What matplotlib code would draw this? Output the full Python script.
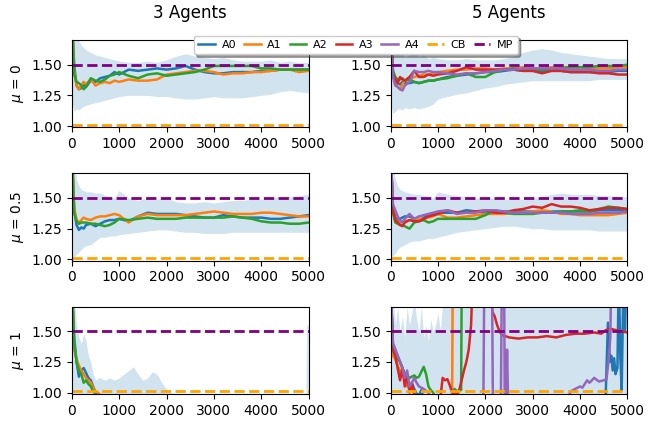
import matplotlib
matplotlib.use("Agg")
import matplotlib.pyplot as plt

colors = ["tab:blue", "tab:orange", "tab:green", "tab:red", "tab:purple"]
agents = ["A0", "A1", "A2", "A3", "A4"]
col_titles = ["3 Agents", "5 Agents"]
row_labels = [r"$\mu$ = 0", r"$\mu$ = 0.5", r"$\mu$ = 1"]
cb_level = 1.01
mp_level = 1.5

# shared time grid for the mu=0 and mu=0.5 rows
t = [0, 50, 100, 150, 200, 250, 300, 400, 500, 600, 700, 800, 900, 1000, 1200, 1400,
     1600, 1800, 2000, 2200, 2400, 2600, 2800, 3000, 3200, 3400, 3600, 3800, 4000,
     4200, 4400, 4600, 4800, 5000]

# ---- 3 agents, mu = 0
n3_m0 = [
    [1.9, 1.50, 1.33, 1.30, 1.31, 1.34, 1.32, 1.37, 1.36, 1.39, 1.40, 1.41, 1.44, 1.42, 1.46, 1.45,
     1.46, 1.47, 1.46, 1.47, 1.49, 1.46, 1.44, 1.43, 1.43, 1.44, 1.44, 1.44, 1.45, 1.45, 1.46, 1.46, 1.46, 1.46],
    [1.9, 1.45, 1.33, 1.30, 1.33, 1.36, 1.34, 1.38, 1.33, 1.35, 1.36, 1.35, 1.37, 1.36, 1.38, 1.37,
     1.37, 1.38, 1.42, 1.43, 1.44, 1.45, 1.45, 1.44, 1.42, 1.43, 1.43, 1.44, 1.44, 1.45, 1.46, 1.46, 1.44, 1.45],
    [1.9, 1.42, 1.36, 1.35, 1.33, 1.30, 1.32, 1.39, 1.37, 1.36, 1.38, 1.41, 1.42, 1.44, 1.41, 1.39,
     1.42, 1.43, 1.41, 1.42, 1.43, 1.44, 1.46, 1.49, 1.49, 1.49, 1.49, 1.49, 1.47, 1.47, 1.46, 1.46, 1.46, 1.46],
]
n3_m0_hi = [2.2, 1.9, 1.75, 1.70, 1.66, 1.64, 1.62, 1.60, 1.58, 1.57, 1.56, 1.55, 1.54, 1.53, 1.52, 1.52,
            1.53, 1.52, 1.54, 1.57, 1.59, 1.57, 1.56, 1.55, 1.56, 1.54, 1.53, 1.53, 1.53, 1.54, 1.52, 1.53, 1.52, 1.52]
n3_m0_lo = [1.2, 1.12, 1.14, 1.13, 1.15, 1.16, 1.17, 1.18, 1.19, 1.20, 1.21, 1.22, 1.23, 1.24, 1.25, 1.25,
            1.25, 1.24, 1.24, 1.23, 1.22, 1.22, 1.23, 1.24, 1.23, 1.23, 1.23, 1.24, 1.25, 1.26, 1.28, 1.29, 1.28, 1.27]

# ---- 5 agents, mu = 0
n5_m0 = [
    [1.9, 1.45, 1.38, 1.35, 1.34, 1.36, 1.35, 1.35, 1.36, 1.35, 1.36, 1.37, 1.37, 1.38, 1.40, 1.41,
     1.42, 1.43, 1.44, 1.44, 1.45, 1.46, 1.45, 1.45, 1.45, 1.45, 1.45, 1.44, 1.44, 1.44, 1.44, 1.44, 1.45, 1.45],
    [1.9, 1.42, 1.35, 1.32, 1.30, 1.34, 1.37, 1.38, 1.40, 1.41, 1.42, 1.42, 1.43, 1.44, 1.45, 1.46,
     1.46, 1.47, 1.47, 1.46, 1.47, 1.47, 1.48, 1.47, 1.47, 1.48, 1.48, 1.48, 1.48, 1.47, 1.47, 1.47, 1.48, 1.48],
    [1.9, 1.45, 1.40, 1.38, 1.38, 1.39, 1.37, 1.38, 1.36, 1.35, 1.36, 1.37, 1.37, 1.38, 1.39, 1.41,
     1.43, 1.40, 1.40, 1.44, 1.46, 1.47, 1.46, 1.46, 1.46, 1.46, 1.47, 1.48, 1.48, 1.48, 1.49, 1.49, 1.49, 1.50],
    [1.9, 1.42, 1.38, 1.35, 1.40, 1.38, 1.37, 1.40, 1.45, 1.40, 1.40, 1.42, 1.41, 1.42, 1.43, 1.45,
     1.48, 1.46, 1.46, 1.46, 1.46, 1.46, 1.45, 1.45, 1.43, 1.45, 1.45, 1.44, 1.44, 1.44, 1.43, 1.43, 1.42, 1.42],
    [1.9, 1.40, 1.33, 1.32, 1.30, 1.29, 1.33, 1.36, 1.45, 1.44, 1.44, 1.45, 1.44, 1.44, 1.43, 1.42,
     1.43, 1.43, 1.44, 1.45, 1.46, 1.46, 1.47, 1.47, 1.47, 1.47, 1.47, 1.46, 1.46, 1.46, 1.45, 1.45, 1.46, 1.46],
]
n5_m0_hi = [2.2, 1.85, 1.70, 1.62, 1.58, 1.60, 1.56, 1.58, 1.60, 1.56, 1.58, 1.55, 1.56, 1.55, 1.54, 1.54,
            1.55, 1.54, 1.54, 1.54, 1.55, 1.57, 1.60, 1.62, 1.63, 1.62, 1.60, 1.59, 1.58, 1.57, 1.56, 1.55, 1.55, 1.55]
n5_m0_lo = [1.2, 1.10, 1.12, 1.14, 1.14, 1.13, 1.15, 1.14, 1.15, 1.14, 1.15, 1.16, 1.18, 1.22, 1.24, 1.26,
            1.27, 1.29, 1.31, 1.32, 1.34, 1.35, 1.36, 1.37, 1.37, 1.37, 1.37, 1.37, 1.37, 1.37, 1.38, 1.38, 1.38, 1.38]

# ---- 3 agents, mu = 0.5
n3_m05 = [
    [1.9, 1.40, 1.28, 1.24, 1.26, 1.25, 1.28, 1.29, 1.27, 1.29, 1.31, 1.32, 1.32, 1.33, 1.31, 1.35,
     1.38, 1.37, 1.37, 1.37, 1.36, 1.35, 1.34, 1.34, 1.36, 1.35, 1.34, 1.34, 1.34, 1.33, 1.33, 1.34, 1.35, 1.36],
    [1.9, 1.42, 1.32, 1.30, 1.32, 1.34, 1.33, 1.32, 1.34, 1.35, 1.35, 1.36, 1.37, 1.36, 1.30, 1.35,
     1.37, 1.36, 1.36, 1.36, 1.36, 1.37, 1.38, 1.39, 1.38, 1.37, 1.37, 1.37, 1.38, 1.38, 1.37, 1.36, 1.35, 1.35],
    [1.9, 1.38, 1.31, 1.29, 1.30, 1.30, 1.30, 1.29, 1.29, 1.28, 1.27, 1.28, 1.30, 1.33, 1.32, 1.33,
     1.34, 1.33, 1.33, 1.33, 1.34, 1.34, 1.34, 1.34, 1.34, 1.35, 1.34, 1.33, 1.31, 1.30, 1.30, 1.29, 1.29, 1.30],
]
n3_m05_hi = [2.2, 1.8, 1.65, 1.60, 1.57, 1.56, 1.55, 1.55, 1.54, 1.54, 1.52, 1.51, 1.50, 1.56, 1.50, 1.48,
             1.50, 1.49, 1.50, 1.47, 1.46, 1.46, 1.47, 1.46, 1.47, 1.48, 1.48, 1.49, 1.49, 1.50, 1.51, 1.51, 1.52, 1.53]
n3_m05_lo = [0.9, 1.02, 1.04, 1.06, 1.08, 1.10, 1.11, 1.12, 1.15, 1.18, 1.18, 1.19, 1.19, 1.20, 1.21, 1.22,
             1.23, 1.24, 1.24, 1.23, 1.22, 1.22, 1.21, 1.21, 1.21, 1.22, 1.22, 1.22, 1.22, 1.22, 1.22, 1.22, 1.22, 1.22]

# ---- 5 agents, mu = 0.5
n5_m05 = [
    [1.9, 1.42, 1.34, 1.32, 1.33, 1.34, 1.35, 1.35, 1.33, 1.32, 1.34, 1.36, 1.37, 1.38, 1.38, 1.38,
     1.40, 1.39, 1.38, 1.39, 1.39, 1.39, 1.39, 1.39, 1.39, 1.39, 1.39, 1.39, 1.39, 1.39, 1.40, 1.40, 1.40, 1.40],
    [1.9, 1.40, 1.32, 1.31, 1.30, 1.31, 1.31, 1.32, 1.32, 1.33, 1.33, 1.34, 1.35, 1.37, 1.34, 1.34,
     1.35, 1.36, 1.37, 1.37, 1.37, 1.38, 1.38, 1.39, 1.40, 1.39, 1.37, 1.37, 1.36, 1.36, 1.36, 1.36, 1.37, 1.38],
    [1.9, 1.38, 1.30, 1.29, 1.28, 1.28, 1.27, 1.25, 1.30, 1.31, 1.32, 1.30, 1.31, 1.33, 1.33, 1.33,
     1.33, 1.33, 1.36, 1.40, 1.38, 1.37, 1.37, 1.37, 1.38, 1.38, 1.39, 1.39, 1.40, 1.39, 1.41, 1.43, 1.42, 1.41],
    [1.9, 1.40, 1.32, 1.30, 1.28, 1.27, 1.30, 1.32, 1.31, 1.31, 1.33, 1.35, 1.36, 1.37, 1.40, 1.38,
     1.38, 1.39, 1.40, 1.38, 1.38, 1.40, 1.41, 1.43, 1.42, 1.45, 1.43, 1.43, 1.42, 1.40, 1.41, 1.42, 1.42, 1.41],
    [1.9, 1.45, 1.40, 1.35, 1.32, 1.30, 1.33, 1.37, 1.33, 1.35, 1.36, 1.37, 1.38, 1.39, 1.40, 1.37,
     1.38, 1.38, 1.40, 1.40, 1.39, 1.38, 1.38, 1.38, 1.38, 1.38, 1.38, 1.37, 1.37, 1.37, 1.38, 1.38, 1.38, 1.39],
]
n5_m05_hi = [2.2, 1.75, 1.65, 1.60, 1.57, 1.56, 1.55, 1.54, 1.53, 1.53, 1.52, 1.51, 1.50, 1.55, 1.53, 1.52,
             1.51, 1.50, 1.50, 1.50, 1.49, 1.49, 1.49, 1.50, 1.51, 1.53, 1.54, 1.53, 1.53, 1.53, 1.52, 1.52, 1.51, 1.51]
n5_m05_lo = [0.9, 1.03, 1.05, 1.08, 1.10, 1.11, 1.12, 1.14, 1.15, 1.15, 1.16, 1.17, 1.17, 1.18, 1.20, 1.22,
             1.23, 1.24, 1.25, 1.26, 1.27, 1.27, 1.26, 1.25, 1.25, 1.24, 1.24, 1.24, 1.24, 1.24, 1.23, 1.23, 1.23, 1.23]

# ---- 3 agents, mu = 1
t3_m1 = [0, 50, 100, 150, 200, 250, 300, 350, 400, 450, 500, 550, 600, 700, 800, 900, 1000, 1100,
         1200, 1300, 1400, 1500, 1600, 1700, 1800, 1900, 2000, 2100, 2200, 2300, 2400, 2600, 3000,
         3500, 4000, 4500, 4940, 4960, 5000]
n3_m1 = [
    [1.9, 1.45, 1.25, 1.13, 1.18, 1.20, 1.16, 1.12, 1.10, 1.05, 1.00, 0.97, 0.96, 0.95, 0.95, 0.95,
     0.95, 0.95, 0.95, 0.95, 0.95, 0.95, 0.95, 0.95, 0.95, 0.95, 0.95, 0.95, 0.95, 0.95, 0.95, 0.95,
     0.95, 0.95, 0.95, 0.95, 0.95, 0.95, 0.95],
    [1.9, 1.35, 1.27, 1.22, 1.18, 1.15, 1.12, 1.10, 1.08, 1.04, 1.01, 1.00, 0.98, 0.96, 0.95, 0.95,
     0.95, 0.95, 0.95, 0.95, 0.95, 0.95, 0.95, 0.95, 0.95, 0.95, 0.95, 0.95, 0.95, 0.95, 0.95, 0.95,
     0.95, 0.95, 0.95, 0.95, 0.95, 0.95, 0.95],
    [1.9, 1.40, 1.25, 1.18, 1.15, 1.08, 1.10, 1.07, 1.05, 1.01, 0.99, 0.97, 0.96, 0.95, 0.95, 0.95,
     0.95, 0.95, 0.95, 0.95, 0.95, 0.95, 0.95, 0.95, 0.95, 0.95, 0.95, 0.95, 0.95, 0.95, 0.95, 0.95,
     0.95, 0.95, 0.95, 0.95, 0.95, 0.95, 0.95],
]
n3_m1_hi = [2.5, 1.8, 1.55, 1.45, 1.40, 1.48, 1.42, 1.30, 1.25, 1.15, 1.10, 1.12, 1.12, 1.10, 1.12,
            1.10, 1.12, 1.15, 1.18, 1.21, 1.15, 1.10, 1.12, 1.17, 1.15, 1.08, 1.03, 1.00, 0.99, 0.98,
            0.97, 0.96, 0.96, 0.96, 0.96, 0.96, 0.96, 1.55, 1.55]
n3_m1_lo = [0.5] * len(t3_m1)

# ---- 5 agents, mu = 1 (each agent has its own sample times)
t5_m1 = [
    [0, 50, 100, 150, 200, 250, 300, 350, 400, 450, 500, 550, 600, 650, 700, 4540, 4590, 4630,
     4660, 4690, 4720, 4750, 4790, 4820, 4850, 4880, 4920, 4950, 4980, 5000],
    [0, 50, 100, 150, 200, 250, 300, 350, 400, 450, 500, 550, 1300, 1320, 5000],
    [0, 50, 100, 200, 300, 400, 450, 500, 550, 600, 650, 700, 750, 800, 850, 900, 950, 1300,
     1350, 1400, 1450, 1490, 1510, 5000],
    [0, 50, 100, 150, 200, 250, 300, 350, 400, 450, 500, 550, 1050, 1100, 1150, 1200, 1250, 1300,
     1420, 1450, 1500, 1550, 1600, 1650, 1700, 1730, 2100, 2150, 2200, 2250, 2300, 2350, 2500,
     2700, 2900, 3100, 3300, 3500, 3700, 3900, 4100, 4300, 4450, 4550, 4650, 4750, 4850, 5000],
    [0, 50, 100, 150, 200, 250, 300, 350, 400, 450, 500, 550, 600, 700, 800, 850, 1960, 1990,
     2130, 2160, 2330, 2360, 2390, 2410, 2440, 2460, 2480, 3750, 3800, 3900, 4000, 4050, 4100,
     4150, 4200, 4250, 4300, 4400, 4500, 4560, 4600, 4640, 4680, 5000],
]
n5_m1 = [
    [1.9, 1.40, 1.35, 1.30, 1.25, 1.20, 1.15, 1.10, 1.05, 1.08, 1.03, 0.99, 0.98, 1.02, 0.95, 0.95,
     1.57, 1.25, 1.30, 1.18, 1.28, 1.15, 1.20, 2.0, 1.30, 1.02, 2.0, 1.50, 2.0, 2.0],
    [1.9, 1.30, 1.27, 1.22, 1.18, 1.15, 1.10, 1.05, 1.08, 1.02, 0.99, 0.95, 0.95, 2.5, 2.5],
    [1.9, 1.35, 1.30, 1.25, 1.15, 1.12, 1.13, 1.14, 1.12, 1.13, 1.17, 1.21, 1.15, 1.05, 1.02, 1.00,
     0.95, 0.95, 1.03, 1.01, 1.02, 1.02, 2.5, 2.5],
    [1.9, 1.35, 1.30, 1.20, 1.10, 1.20, 1.05, 1.15, 1.00, 1.07, 0.99, 0.95, 0.95, 1.12, 1.10, 1.11,
     1.06, 1.00, 0.99, 1.02, 1.10, 1.18, 1.25, 1.35, 1.55, 1.9, 2.0, 1.66, 1.62, 1.55, 1.50, 1.47,
     1.45, 1.44, 1.45, 1.45, 1.46, 1.45, 1.47, 1.48, 1.48, 1.49, 1.48, 1.51, 1.52, 1.51, 1.50, 1.49],
    [1.9, 1.40, 1.35, 1.30, 1.25, 1.20, 1.12, 1.18, 1.05, 1.08, 1.12, 1.08, 1.05, 1.03, 1.00, 0.95,
     0.95, 2.5, 2.5, 0.95, 0.95, 2.5, 2.5, 0.95, 0.95, 1.35, 0.95, 0.95, 1.01, 1.03, 1.05, 1.04,
     1.07, 1.10, 1.08, 1.10, 1.12, 1.09, 1.10, 1.11, 1.25, 1.45, 2.5, 2.5],
]
t5_m1_band = [0, 50, 100, 150, 200, 250, 300, 350, 400, 450, 500, 550, 600, 650, 700, 750, 800,
              850, 900, 950, 1000, 1050, 1100, 1150, 5000]
n5_m1_hi = [2.5, 1.8, 1.55, 1.70, 1.50, 1.62, 1.45, 1.70, 1.55, 1.65, 1.75, 1.60, 1.50, 1.70, 1.45,
            1.55, 1.42, 1.60, 1.50, 1.55, 1.65, 1.50, 1.75, 2.5, 2.5]
n5_m1_lo = [0.5] * len(t5_m1_band)

panels = [
    [(None, n3_m0, t, n3_m0_hi, n3_m0_lo), (None, n5_m0, t, n5_m0_hi, n5_m0_lo)],
    [(None, n3_m05, t, n3_m05_hi, n3_m05_lo), (None, n5_m05, t, n5_m05_hi, n5_m05_lo)],
    [(None, n3_m1, t3_m1, n3_m1_hi, n3_m1_lo), (t5_m1, n5_m1, t5_m1_band, n5_m1_hi, n5_m1_lo)],
]

fig, axes = plt.subplots(3, 2, figsize=(6.59, 4.23), dpi=100)
fig.subplots_adjust(left=0.109, right=0.952, top=0.905, bottom=0.069, wspace=0.346, hspace=0.53)

for r in range(3):
    for c in range(2):
        ax = axes[r, c]
        own_t, series, band_t, hi, lo = panels[r][c]
        ax.fill_between(band_t, lo, hi, color="tab:blue", alpha=0.2, linewidth=0)
        for i, ys in enumerate(series):
            xs = own_t[i] if own_t is not None else (band_t if r == 2 else t)
            ax.plot(xs, ys, color=colors[i], lw=1.8, label=agents[i])
        ax.axhline(cb_level, color="orange", ls="--", lw=2, label="CB")
        ax.axhline(mp_level, color="purple", ls="--", lw=2, label="MP")
        ax.set_xlim(0, 5000)
        ax.set_ylim(0.99, 1.7)
        ax.set_yticks([1.0, 1.25, 1.5])
        ax.set_xticks([0, 1000, 2000, 3000, 4000, 5000])
        if r == 0:
            ax.set_title(col_titles[c], fontsize=12, pad=16)
        if c == 0:
            ax.set_ylabel(row_labels[r])

handles, labels = axes[0, 1].get_legend_handles_labels()
fig.legend(handles, labels, loc="upper center", bbox_to_anchor=(0.540, 0.929), ncol=7,
           fontsize=8, shadow=True, handlelength=1.5, handletextpad=0.6, columnspacing=0.7)

fig.savefig("out.png", dpi=100)
